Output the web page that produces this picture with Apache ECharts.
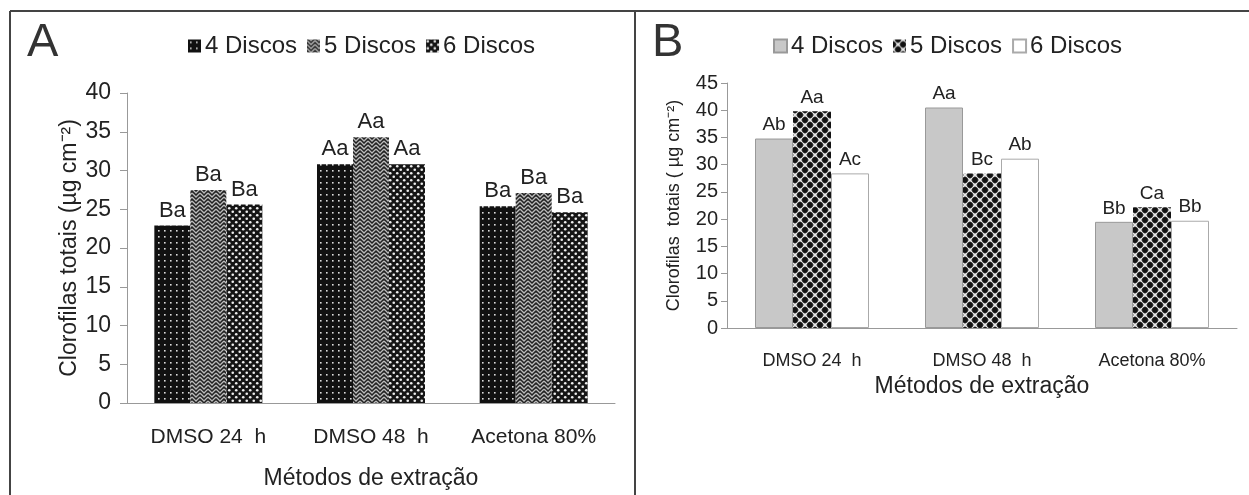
<!DOCTYPE html>
<html>
<head>
<meta charset="utf-8">
<script src="https://cdn.jsdelivr.net/npm/echarts@6/dist/echarts.min.js"></script>
<style>
  html, body { margin: 0; padding: 0; background: #fff; }
  #chart { width: 1249px; height: 495px; }
</style>
</head>
<body>
<div id="chart"></div>
<script>
// dados
var categorias = ['DMSO 24  h', 'DMSO 48  h', 'Acetona 80%']
var discos = ['4 Discos', '5 Discos', '6 Discos']

// painel A
var a4 = [22.9, 30.8, 25.4]
var a5 = [27.5, 34.3, 27.1]
var a6 = [25.6, 30.8, 24.6]
var letrasA4 = ['Ba', 'Aa', 'Ba']
var letrasA5 = ['Ba', 'Aa', 'Ba']
var letrasA6 = ['Ba', 'Aa', 'Ba']

// painel B
var b4 = [34.8, 40.5, 19.5]
var b5 = [39.8, 28.4, 22.2]
var b6 = [28.4, 31.1, 19.7]
var letrasB4 = ['Ab', 'Aa', 'Bb']
var letrasB5 = ['Aa', 'Bc', 'Ca']
var letrasB6 = ['Ac', 'Ab', 'Bb']

var fonte = '"Liberation Sans", Arial, sans-serif'

// texturas das barras
function textura (w, h, desenha) {
  var c = document.createElement('canvas')
  c.width = w
  c.height = h
  desenha(c.getContext('2d'))
  return { image: c, repeat: 'repeat' }
}

var texA4 = textura(6, 6, function (g) {
  g.fillStyle = '#111'
  g.fillRect(0, 0, 6, 6)
  g.fillStyle = '#ddd'
  g.fillRect(2, 2, 1.6, 1.6)
})
var texA5 = textura(8, 8, function (g) {
  g.fillStyle = '#222'
  g.fillRect(0, 0, 8, 8)
  g.strokeStyle = '#bbb'
  g.lineWidth = 1.3
  g.beginPath()
  g.moveTo(0, 1); g.lineTo(4, 5); g.lineTo(8, 1)
  g.moveTo(0, 5); g.lineTo(4, 9); g.lineTo(8, 5)
  g.moveTo(0, -3); g.lineTo(4, 1); g.lineTo(8, -3)
  g.stroke()
})
var texA6 = textura(7, 7, function (g) {
  g.fillStyle = '#151515'
  g.fillRect(0, 0, 7, 7)
  g.fillStyle = '#eee'
  g.beginPath(); g.arc(1.75, 1.75, 1.3, 0, Math.PI * 2); g.fill()
  g.beginPath(); g.arc(5.25, 5.25, 1.3, 0, Math.PI * 2); g.fill()
})
var texB5 = textura(10, 10, function (g) {
  g.fillStyle = '#888'
  g.fillRect(0, 0, 10, 10)
  g.strokeStyle = '#eee'
  g.lineWidth = 1.2
  g.beginPath()
  g.moveTo(0, 0); g.lineTo(10, 10)
  g.moveTo(10, 0); g.lineTo(0, 10)
  g.stroke()
  g.fillStyle = '#111'
  var pts = [[5, 0], [0, 5], [10, 5], [5, 10]]
  for (var i = 0; i < pts.length; i++) {
    g.beginPath(); g.arc(pts[i][0], pts[i][1], 2.9, 0, Math.PI * 2); g.fill()
  }
})

function rotulo (letras, tam) {
  return {
    show: true,
    position: 'top',
    distance: 4,
    fontFamily: fonte,
    fontSize: tam,
    color: '#222',
    formatter: function (p) { return letras[p.dataIndex] }
  }
}

function serie (nome, dados, eixo, cor, borda, letras, tam, largura) {
  return {
    name: nome,
    type: 'bar',
    xAxisIndex: eixo,
    yAxisIndex: eixo,
    data: dados,
    barWidth: largura,
    barGap: '0%',
    itemStyle: { color: cor, borderColor: borda, borderWidth: borda ? 1 : 0 },
    label: rotulo(letras, tam),
    emphasis: { disabled: true }
  }
}

function legenda (painel, esquerda) {
  return {
    left: esquerda, top: 29,
    icon: 'rect',
    itemWidth: 13, itemHeight: 13, itemGap: 10,
    textStyle: { fontSize: 24, color: '#222', padding: [0, 0, 0, -1] },
    data: discos.map(function (d) { return painel + '|' + d }),
    formatter: function (n) { return n.split('|')[1] },
    selectedMode: false
  }
}

var chart = echarts.init(document.getElementById('chart'))

var option = {
  animation: false,
  textStyle: { fontFamily: fonte },
  graphic: [
    { type: 'line', shape: { x1: 10, y1: 11, x2: 1249, y2: 11 }, style: { stroke: '#444', lineWidth: 2 } },
    { type: 'line', shape: { x1: 10, y1: 11, x2: 10, y2: 495 }, style: { stroke: '#444', lineWidth: 2 } },
    { type: 'line', shape: { x1: 635, y1: 11, x2: 635, y2: 495 }, style: { stroke: '#444', lineWidth: 2 } },
    { type: 'text', left: 27, top: 20, style: { text: 'A', fontFamily: fonte, fontSize: 47, fill: '#333' } },
    { type: 'text', left: 652, top: 20, style: { text: 'B', fontFamily: fonte, fontSize: 47, fill: '#333' } }
  ],
  legend: [legenda('A', 183), legenda('B', 768)],
  grid: [
    { left: 127, top: 93, width: 488, height: 310 },
    { left: 727, top: 83, width: 510, height: 245 }
  ],
  xAxis: [
    {
      gridIndex: 0,
      type: 'category',
      data: categorias,
      name: 'Métodos de extração',
      nameLocation: 'middle',
      nameGap: 64,
      nameTextStyle: { fontSize: 23, color: '#222' },
      axisLine: { lineStyle: { color: '#999' } },
      axisTick: { length: 6, lineStyle: { color: '#999' } },
      axisLabel: { fontSize: 21, color: '#222', margin: 24, interval: 0, hideOverlap: false }
    },
    {
      gridIndex: 1,
      type: 'category',
      data: categorias,
      name: 'Métodos de extração',
      nameLocation: 'middle',
      nameGap: 47,
      nameTextStyle: { fontSize: 23, color: '#222' },
      axisLine: { lineStyle: { color: '#999' } },
      axisTick: { length: 6, lineStyle: { color: '#999' } },
      axisLabel: { fontSize: 18, color: '#222', margin: 24, interval: 0 }
    }
  ],
  yAxis: [
    {
      gridIndex: 0,
      type: 'value',
      min: 0, max: 40, interval: 5,
      name: 'Clorofilas totais (µg cm⁻²)',
      nameLocation: 'middle',
      nameGap: 46,
      nameTextStyle: { fontSize: 23, color: '#222' },
      axisLine: { show: true, lineStyle: { color: '#999' } },
      axisTick: { show: true, length: 7, lineStyle: { color: '#999' } },
      axisLabel: { fontSize: 23, color: '#222', margin: 16 },
      splitLine: { show: false }
    },
    {
      gridIndex: 1,
      type: 'value',
      min: 0, max: 45, interval: 5,
      name: 'Clorofilas  totais ( µg cm⁻²)',
      nameLocation: 'middle',
      nameGap: 44,
      nameTextStyle: { fontSize: 18, color: '#222' },
      axisLine: { show: true, lineStyle: { color: '#999' } },
      axisTick: { show: true, length: 6, lineStyle: { color: '#999' } },
      axisLabel: { fontSize: 20, color: '#222', margin: 9 },
      splitLine: { show: false }
    }
  ],
  series: [
    serie('A|' + discos[0], a4, 0, texA4, null, letrasA4, 22, 36),
    serie('A|' + discos[1], a5, 0, texA5, null, letrasA5, 22, 36),
    serie('A|' + discos[2], a6, 0, texA6, null, letrasA6, 22, 36),
    serie('B|' + discos[0], b4, 1, '#c8c8c8', '#999', letrasB4, 19, 38),
    serie('B|' + discos[1], b5, 1, texB5, null, letrasB5, 19, 38),
    serie('B|' + discos[2], b6, 1, '#fff', '#aaa', letrasB6, 19, 38)
  ]
}

chart.setOption(option)
</script>
</body>
</html>
